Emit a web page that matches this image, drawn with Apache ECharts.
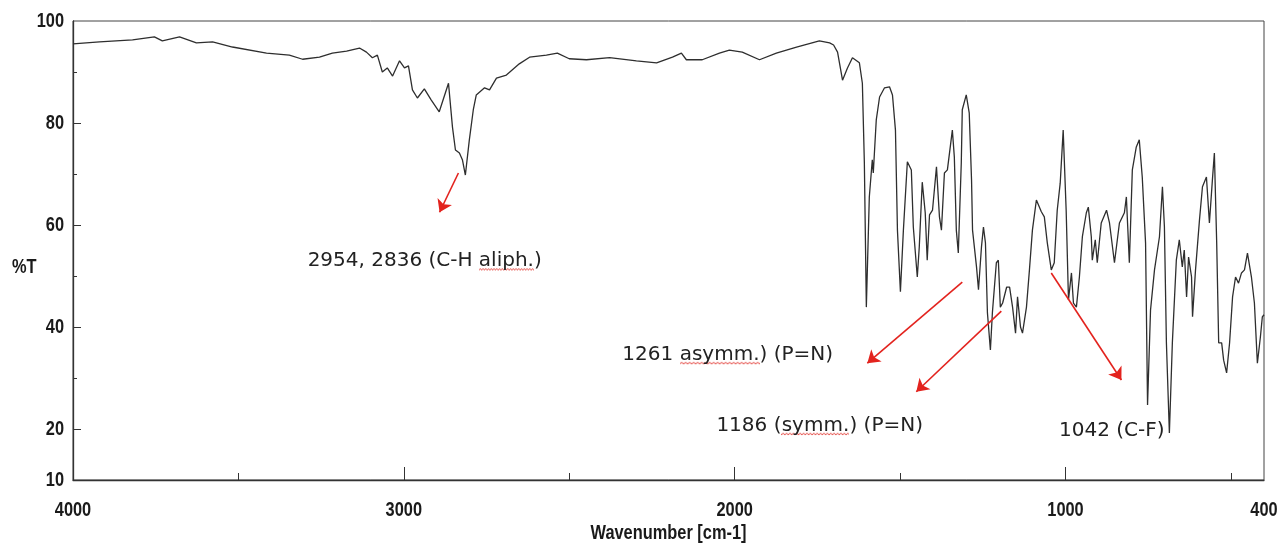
<!DOCTYPE html>
<html style="height: 100%">
<head>
<meta charset="utf-8">
</head>
<body style="height: 100%; margin: 0; background: #fff">
<div id="container" style="width: 1281px; height: 553px"></div>
<script type="text/javascript" src="https://cdn.jsdelivr.net/npm/echarts@6/dist/echarts.min.js"></script>
<script type="text/javascript">
// IR spectrum: wavenumber (cm-1) and %T
var wavenumber = [
    4000, 3920, 3820, 3754, 3730, 3678, 3627, 3578, 3518, 3415,
    3346, 3306, 3255, 3216, 3173, 3134, 3113, 3095, 3080, 3065,
    3050, 3034, 3013, 2998, 2986, 2974, 2959, 2938, 2917, 2893,
    2865, 2853, 2844, 2832, 2823, 2814, 2802, 2790, 2781, 2756,
    2741, 2720, 2690, 2651, 2620, 2569, 2536, 2500, 2448, 2378,
    2297, 2236, 2188, 2161, 2146, 2098, 2046, 2016, 1977, 1925,
    1874, 1813, 1744, 1713, 1701, 1689, 1674, 1659, 1644, 1623,
    1614, 1608, 1602, 1593, 1584, 1581, 1572, 1562, 1547, 1532,
    1523, 1514, 1508, 1499, 1490, 1478, 1466, 1460, 1448, 1442,
    1433, 1424, 1418, 1411, 1402, 1390, 1381, 1375, 1366, 1357,
    1342, 1336, 1330, 1324, 1315, 1312, 1300, 1291, 1284, 1281,
    1269, 1263, 1254, 1248, 1242, 1236, 1227, 1221, 1209, 1203,
    1197, 1190, 1178, 1169, 1160, 1151, 1145, 1136, 1130, 1118,
    1109, 1100, 1088, 1073, 1064, 1055, 1043, 1034, 1025, 1016,
    1007, 998, 991, 982, 976, 967, 958, 949, 937, 931,
    922, 919, 910, 904, 892, 876, 867, 852, 837, 822,
    816, 807, 798, 786, 777, 768, 758, 752, 743, 731,
    716, 707, 701, 695, 686, 677, 665, 656, 647, 641,
    634, 628, 619, 616, 607, 595, 586, 574, 565, 556,
    550, 543, 537, 528, 522, 513, 504, 495, 486, 477,
    468, 459, 450, 438, 429, 420, 411, 405, 400
];
var transmittance = [
    95.5, 95.9, 96.3, 96.9, 96.1, 96.9, 95.7, 95.9, 94.9, 93.7,
    93.3, 92.5, 92.9, 93.7, 94.1, 94.7, 93.9, 92.8, 93.3, 90.0,
    90.8, 89.2, 92.2, 90.8, 91.2, 86.5, 84.9, 86.7, 84.5, 82.2,
    87.8, 79.2, 74.7, 74.1, 72.8, 69.8, 76.7, 82.6, 85.5, 86.9,
    86.5, 88.8, 89.4, 91.6, 92.9, 93.3, 93.7, 92.6, 92.4, 92.8,
    92.2, 91.8, 92.9, 93.7, 92.4, 92.4, 93.7, 94.3, 93.9, 92.4,
    93.7, 94.9, 96.1, 95.7, 95.3, 93.9, 88.4, 90.8, 92.8, 91.8,
    87.8, 72.2, 43.9, 65.5, 72.8, 70.2, 80.6, 85.1, 86.9, 87.1,
    85.5, 78.6, 59.0, 46.9, 59.0, 72.4, 70.8, 59.6, 49.8, 55.7,
    68.4, 62.4, 53.1, 62.0, 62.9, 71.4, 61.6, 59.0, 70.2, 70.8,
    78.6, 73.3, 59.0, 54.5, 72.2, 82.6, 85.5, 82.0, 68.8, 59.0,
    51.8, 47.3, 55.7, 59.6, 56.5, 42.8, 35.5, 42.8, 52.6, 53.1,
    43.9, 44.7, 47.8, 47.8, 43.9, 38.8, 45.9, 40.0, 38.8, 43.9,
    51.2, 59.0, 64.9, 62.6, 61.6, 56.5, 51.2, 52.6, 62.9, 68.2,
    78.6, 62.9, 45.3, 50.6, 44.7, 43.9, 49.8, 57.7, 62.4, 63.5,
    57.7, 53.1, 57.1, 52.6, 60.4, 62.9, 60.4, 52.6, 60.4, 62.4,
    65.5, 52.6, 70.8, 75.3, 76.7, 69.4, 56.5, 24.7, 43.3, 51.2,
    57.7, 67.5, 59.6, 36.9, 19.2, 36.9, 53.1, 57.1, 51.8, 55.1,
    45.9, 53.7, 49.8, 42.0, 51.2, 61.0, 67.5, 69.4, 60.4, 68.8,
    74.1, 56.5, 36.9, 36.9, 33.5, 31.0, 36.9, 45.9, 49.8, 48.6,
    50.6, 51.2, 54.5, 49.8, 44.7, 32.9, 38.0, 42.0, 42.4
];

var xLabelValues = [4000, 3000, 2000, 1000, 400];
var xMajorTicks = [3000, 2000, 1000];
var xMinorTicks = [3500, 2500, 1500, 500];
var yLabelValues = [10, 20, 40, 60, 80, 100];
var yMajorTicks = [20, 40, 60, 80];
var yMinorTicks = [30, 50, 70, 90];

// red arrows: [from, to] in [wavenumber, %T]
var arrows = [
    [[2835, 70.2], [2892, 62.5]],
    [[1312, 48.8], [1599, 32.9]],
    [[1194, 43.1], [1451, 27.3]],
    [[1043, 50.6], [831, 29.6]]
];
// band notes: text before / squiggle-underlined word / text after
var notes = [
    {before: '2954, 2836 (C-H ', word: 'aliph.', after: ')', at: [2937, 52.9]},
    {before: '1261 ', word: 'asymm.', after: ') (P=N)', at: [2021, 34.5]},
    {before: '1186 (', word: 'symm.', after: ') (P=N)', at: [1743, 20.6]},
    {before: '1042 (C-F)', word: '', after: '', at: [860, 19.6]}
];

var labelFont = "'Liberation Sans', Arial, sans-serif";
var noteFont = "'DejaVu Sans', 'Liberation Sans', sans-serif";

// spell-check squiggle used as background of underlined words
var wave = document.createElement('canvas');
wave.width = 80;
wave.height = 24;
var ctx = wave.getContext('2d');
ctx.strokeStyle = '#e0302a';
ctx.lineWidth = 1;
ctx.beginPath();
for (var i = 0; i <= 40; i++) {
    var wy = (i % 2) ? 20.5 : 23;
    if (i === 0) ctx.moveTo(0, wy); else ctx.lineTo(i * 2, wy);
}
ctx.stroke();
ctx.font = "20px " + noteFont;

var spectrum = [];
for (var k = 0; k < wavenumber.length; k++) {
    spectrum.push([wavenumber[k], transmittance[k]]);
}

var arrowData = arrows.map(function (a) {
    return [{coord: a[0]}, {coord: a[1]}];
});

var noteRich = {t: {fontFamily: noteFont, fontSize: 20, lineHeight: 24, color: '#222'}};
var noteData = notes.map(function (n, idx) {
    var s = '{t|' + n.before + '}';
    if (n.word) {
        noteRich['u' + idx] = {
            fontFamily: noteFont, fontSize: 20, lineHeight: 24, color: '#222',
            width: Math.round(ctx.measureText(n.word).width),
            backgroundColor: {image: wave}
        };
        s += '{u' + idx + '|' + n.word + '}';
    }
    if (n.after) s += '{t|' + n.after + '}';
    return {name: s, coord: n.at};
});

var dom = document.getElementById('container');
var myChart = echarts.init(dom, null, {renderer: 'canvas'});

var option = {
    animation: false,
    backgroundColor: '#fff',
    grid: {
        left: 73,
        right: 17,
        top: 21,
        bottom: 73,
        show: true,
        borderColor: '#444',
        borderWidth: 1,
        outerBoundsMode: 'none'
    },
    xAxis: [{
        type: 'value',
        min: 400,
        max: 4000,
        inverse: true,
        position: 'bottom',
        axisLine: {show: true, lineStyle: {color: '#333', width: 1.3}},
        axisTick: {show: true, inside: true, length: 13, customValues: xMajorTicks, lineStyle: {color: '#333'}},
        axisLabel: {show: false},
        splitLine: {show: false}
    }, {
        type: 'value',
        min: 400,
        max: 4000,
        inverse: true,
        position: 'bottom',
        axisLine: {show: false},
        axisTick: {show: true, inside: true, length: 7, customValues: xMinorTicks, lineStyle: {color: '#333'}},
        axisLabel: {show: false},
        splitLine: {show: false}
    }],
    yAxis: [{
        type: 'value',
        min: 10,
        max: 100,
        interval: 10,
        position: 'left',
        axisLine: {show: true, lineStyle: {color: '#333', width: 1.3}},
        axisTick: {show: true, inside: true, length: 8, customValues: yMajorTicks, lineStyle: {color: '#333'}},
        axisLabel: {show: false},
        splitLine: {show: false}
    }, {
        type: 'value',
        min: 10,
        max: 100,
        interval: 10,
        position: 'left',
        axisLine: {show: false},
        axisTick: {show: true, inside: true, length: 4, customValues: yMinorTicks, lineStyle: {color: '#333'}},
        axisLabel: {show: false},
        splitLine: {show: false}
    }],
    series: [{
        type: 'line',
        data: spectrum,
        showSymbol: false,
        symbol: 'none',
        lineStyle: {color: '#2e2e2e', width: 1.3},
        silent: true,
        markLine: {
            silent: true,
            symbol: ['none', 'arrow'],
            symbolSize: 12,
            label: {show: false},
            lineStyle: {color: '#e3231e', width: 1.6, type: 'solid'},
            itemStyle: {color: '#e3231e'},
            emphasis: {disabled: true},
            data: arrowData
        },
        markPoint: {
            silent: true,
            symbol: 'circle',
            symbolSize: 1,
            itemStyle: {color: 'rgba(0,0,0,0)'},
            label: {
                show: true,
                position: 'inside',
                formatter: function (p) { return p.name; },
                rich: noteRich
            },
            data: noteData
        }
    }]
};

myChart.setOption(option);

// axis text in a narrow bold face: Arial bold squeezed horizontally,
// placed at the axis values through the chart's own scales
function narrowText(text, x, y, align) {
    return {
        type: 'text', x: x, y: y, scaleX: 0.78, silent: true,
        style: {
            text: text, fontFamily: labelFont, fontWeight: 'bold', fontSize: 21,
            fill: '#1a1a1a', align: align, verticalAlign: 'middle'
        }
    };
}
var axisTexts = [];
xLabelValues.forEach(function (v) {
    axisTexts.push(narrowText(String(v), myChart.convertToPixel({xAxisIndex: 0}, v), 510, 'center'));
});
yLabelValues.forEach(function (v) {
    axisTexts.push(narrowText(String(v), 64, myChart.convertToPixel({yAxisIndex: 0}, v), 'right'));
});
axisTexts.push(narrowText('%T', 12, 267, 'left'));
axisTexts.push(narrowText('Wavenumber [cm-1]', myChart.convertToPixel({xAxisIndex: 0}, 2200), 533, 'center'));
myChart.setOption({graphic: axisTexts});
</script>
</body>
</html>
